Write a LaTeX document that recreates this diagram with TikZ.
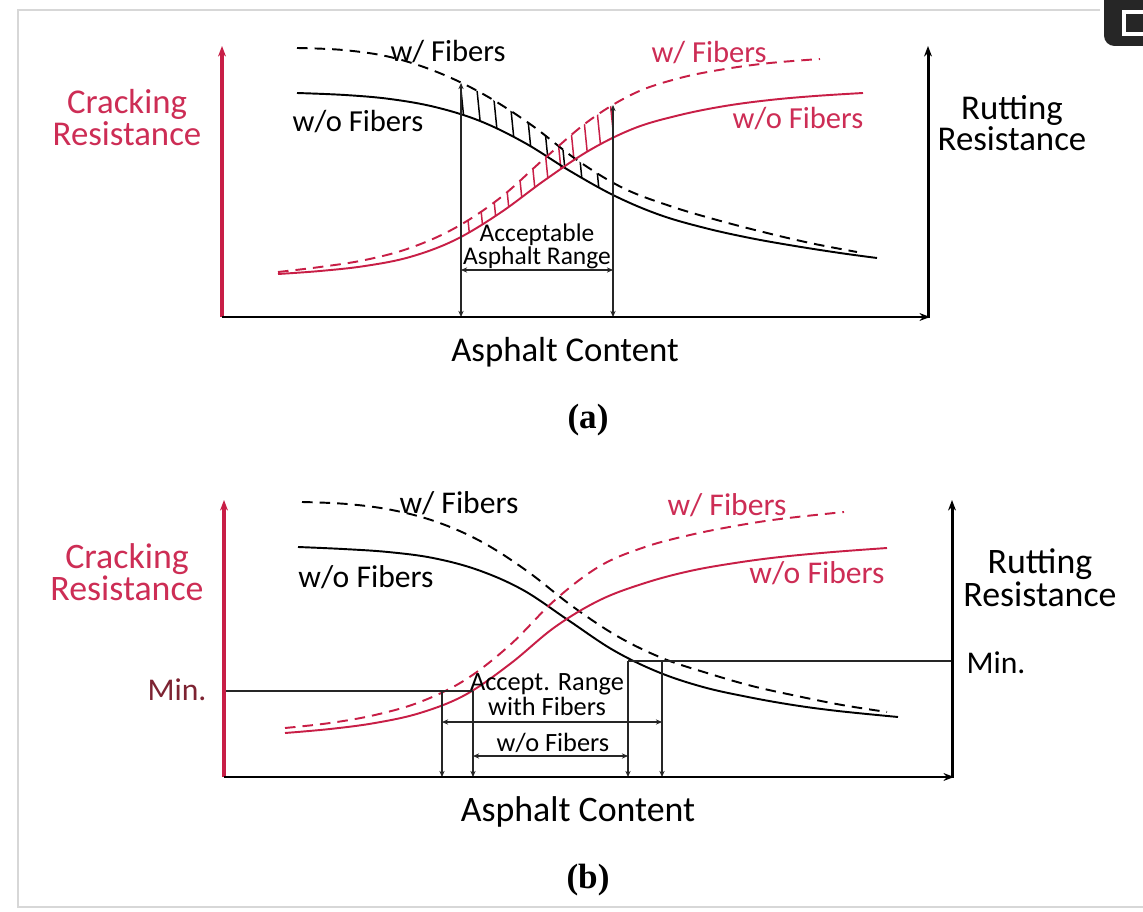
\documentclass[tikz,border=0pt]{standalone}
\usepackage{fontspec}
\newfontfamily\labfont{Carlito}
\newfontfamily\capfont{Liberation Serif}
\usetikzlibrary{arrows.meta}
\definecolor{crim}{RGB}{200,30,70}
\definecolor{crimtext}{RGB}{205,45,85}
\definecolor{mindark}{RGB}{125,35,50}
\definecolor{framegray}{RGB}{215,215,215}
\def\cBdA{(297,48) (343,50) (390,57) (437,72) (483,94) (530,124) (577,160) (623,188) (670,206) (717,220) (763,232) (810,243) (857,252)}
\def\cBsA{(297,93) (345,95) (390,99) (435,107) (480,121) (525,143) (570,171) (615,196) (660,215) (705,228) (750,238) (795,246) (840,253) (877,258)}
\def\cBsAr{(877,258) (840,253) (795,246) (750,238) (705,228) (660,215) (615,196) (570,171) (525,143) (480,121) (435,107) (390,99) (345,95) (297,93)}
\def\cRdA{(278,272) (320,267) (365,260) (410,248) (455,228) (500,198) (545,158) (590,120) (635,93) (680,78) (725,69) (770,63) (820,59)}
\def\cRsA{(278,274) (320,271) (365,266) (410,257) (455,240) (500,213) (545,180) (590,150) (635,128) (680,115) (725,106) (770,100) (815,96) (863,93)}
\def\cRsAr{(863,93) (815,96) (770,100) (725,106) (680,115) (635,128) (590,150) (545,180) (500,213) (455,240) (410,257) (365,266) (320,271) (278,274)}
\begin{document}
\begin{tikzpicture}[x=0.02cm,y=-0.02cm,
  axisblack/.style={line width=1.7pt,black},
  axisred/.style={line width=2.2pt,crim},
  axtip/.style={-{Stealth[length=6pt,width=4.5pt]}},
  solidcurve/.style={line width=1.1pt},
  dashcurve/.style={line width=1.1pt,dash pattern=on 6pt off 4pt},
  guide/.style={line width=0.75pt,black!85},
  bothtip/.style={{Stealth[length=3.5pt,width=3pt]}-{Stealth[length=3.5pt,width=3pt]}},
  downtip/.style={-{Stealth[length=3.5pt,width=3pt]}},
  hatchline/.style={line width=0.85pt},
  bigA/.style={font=\labfont\fontsize{19.8}{16.8}\selectfont,align=center,inner sep=0pt},
  bigB/.style={font=\labfont\fontsize{20.4}{17.2}\selectfont,align=center,inner sep=0pt},
  curvelabA/.style={font=\labfont\fontsize{17.4}{18}\selectfont,inner sep=0pt},
  curvelabB/.style={font=\labfont\fontsize{18}{18}\selectfont,inner sep=0pt},
  smallA/.style={font=\labfont\fontsize{14.5}{13}\selectfont,align=center,inner sep=0pt},
  smallB/.style={font=\labfont\fontsize{15}{14}\selectfont,align=center,inner sep=0pt},
  captext/.style={font=\capfont\bfseries\fontsize{20}{20}\selectfont,inner sep=0pt},
  tension=0.6
]
\useasboundingbox (0,0) rectangle (1143,912);
\fill[white] (0,0) rectangle (1143,912);
% frame and corner icon
\draw[framegray,line width=0.8pt] (1100,10) -- (18,10) -- (18,907) -- (1143,907);
\fill[black!85,rounded corners=6] (1104,-10) rectangle (1165,46);
\draw[white,line width=1.8pt] (1124,12) rectangle (1150,34);

% ================= Panel (a) =================
\coordinate (a0) at (222,317);
\coordinate (aTop) at (222,46);
\coordinate (aR) at (928,317);
\coordinate (aRTop) at (928,46);
\coordinate (aX) at (930,317);

% hatching (black)
\begin{scope}
  \clip (461,0) rectangle (613,330);
  \clip plot[smooth] coordinates {\cBdA} -- plot[smooth] coordinates {\cBsAr} -- cycle;
  \foreach \x in {440,456,...,640} \draw[hatchline,black] (\x,40) -- (\x+30,340);
\end{scope}
% hatching (red)
\begin{scope}
  \clip (461,0) rectangle (613,330);
  \clip plot[smooth] coordinates {\cRdA} -- plot[smooth] coordinates {\cRsAr} -- cycle;
  \foreach \x in {436,450,...,640} \draw[hatchline,crim] (\x,40) -- (\x+30,340);
\end{scope}

% curves
\draw[dashcurve,black] plot[smooth] coordinates {\cBdA};
\draw[solidcurve,black] plot[smooth] coordinates {\cBsA};
\draw[dashcurve,crim] plot[smooth] coordinates {\cRdA};
\draw[solidcurve,crim] plot[smooth] coordinates {\cRsA};

% range lines
\coordinate (aL1) at (461,83);
\coordinate (aL1b) at (461,317);
\coordinate (aL2) at (613,105);
\coordinate (aL2b) at (613,317);
\draw[guide,bothtip] (aL1) -- (aL1b);
\draw[guide,bothtip] (aL2) -- (aL2b);
\coordinate (aH1) at (461,270);
\coordinate (aH2) at (613,270);
\draw[guide,bothtip] (aH1) -- (aH2);

% axes
\draw[axisred,axtip] (a0) -- (aTop);
\draw[axisblack,axtip] (a0) -- (aX);
\draw[axisblack,axtip] ([yshift=-0.8pt]aR) -- (aRTop);

% labels
\node[bigA,text=crimtext] (crA) at (127,117.5) {Cracking\\Resistance};
\node[bigA] (rutA) at (1012,123) {Rutting\\Resistance};
\node[bigA] (acA) at (565,352) {Asphalt Content};
\node[captext] (capA) at (588,420) {(a)};
\node[curvelabA] (wfA) at (448,52) {w/ Fibers};
\node[curvelabA] (wofA) at (358,122) {w/o Fibers};
\node[curvelabA,text=crimtext] (rwfA) at (709,53) {w/ Fibers};
\node[curvelabA,text=crimtext] (rwofA) at (798,119) {w/o Fibers};
\node[smallA] (accA) at (537,246.5) {Acceptable\\Asphalt Range};

% ================= Panel (b) =================
\coordinate (b0) at (224,777);
\coordinate (bTop) at (224,500);
\coordinate (bR) at (952,777);
\coordinate (bRTop) at (952,500);
\coordinate (bX) at (954,777);

\draw[dashcurve,black] plot[smooth] coordinates {(302,502) (347,504) (392,510) (437,522) (482,542) (527,571) (572,606) (617,636) (662,658) (707,673) (752,686) (797,696) (842,705) (887,712)};
\draw[solidcurve,black] plot[smooth] coordinates {(298,547) (343,549) (388,552) (433,558) (478,570) (523,590) (568,620) (613,650) (658,672) (703,687) (748,697) (793,705) (838,711) (898,717)};
\draw[dashcurve,crim] plot[smooth] coordinates {(285,728) (330,723) (375,715) (420,702) (465,680) (510,645) (555,600) (600,566) (645,547) (690,535) (735,526) (780,519) (844,512)};
\draw[solidcurve,crim] plot[smooth] coordinates {(285,733) (330,729) (375,723) (420,713) (465,695) (510,664) (555,627) (600,600) (645,583) (690,571) (735,563) (780,557) (833,552) (887,548)};

% min lines
\coordinate (bMinL) at (224,691);
\coordinate (bMinLe) at (473,691);
\coordinate (bMinR) at (628,661);
\coordinate (bMinRe) at (952,661);
\draw[guide] (bMinL) -- (bMinLe);
\draw[guide] (bMinR) -- (bMinRe);
\coordinate (bv1) at (442,691);  \coordinate (bv1b) at (442,777);
\coordinate (bv2) at (473,691);  \coordinate (bv2b) at (473,777);
\coordinate (bv3) at (628,661);  \coordinate (bv3b) at (628,777);
\coordinate (bv4) at (662,661);  \coordinate (bv4b) at (662,777);
\draw[guide,downtip] (bv1) -- (bv1b);
\draw[guide,downtip] (bv2) -- (bv2b);
\draw[guide,downtip] (bv3) -- (bv3b);
\draw[guide,downtip] (bv4) -- (bv4b);
\coordinate (bh1) at (442,722); \coordinate (bh2) at (662,722);
\coordinate (bh3) at (473,756); \coordinate (bh4) at (628,756);
\draw[guide,bothtip] (bh1) -- (bh2);
\draw[guide,bothtip] (bh3) -- (bh4);

% axes
\draw[axisred,axtip] (b0) -- (bTop);
\draw[axisblack,axtip] (b0) -- (bX);
\draw[axisblack,axtip] ([yshift=-0.8pt]bR) -- (bRTop);

% labels
\node[bigB,text=crimtext] (crB) at (127,572) {Cracking\\Resistance};
\node[bigB] (rutB) at (1040,577.5) {Rutting\\Resistance};
\node[bigB] (acB) at (578,812) {Asphalt Content};
\node[captext] (capB) at (588,880) {(b)};
\node[curvelabB] (wfB) at (459,503) {w/ Fibers};
\node[curvelabB] (wofB) at (366,577) {w/o Fibers};
\node[curvelabB,text=crimtext] (rwfB) at (727,505) {w/ Fibers};
\node[curvelabB,text=crimtext] (rwofB) at (817,573) {w/o Fibers};
\node[smallB] (accB) at (547,694.5) {Accept. Range\\with Fibers};
\node[smallB] (wofsB) at (553,743) {w/o Fibers};
\node[curvelabB,text=mindark] (minL) at (177,690) {Min.};
\node[curvelabB] (minR) at (996,663) {Min.};
\end{tikzpicture}
\end{document}
